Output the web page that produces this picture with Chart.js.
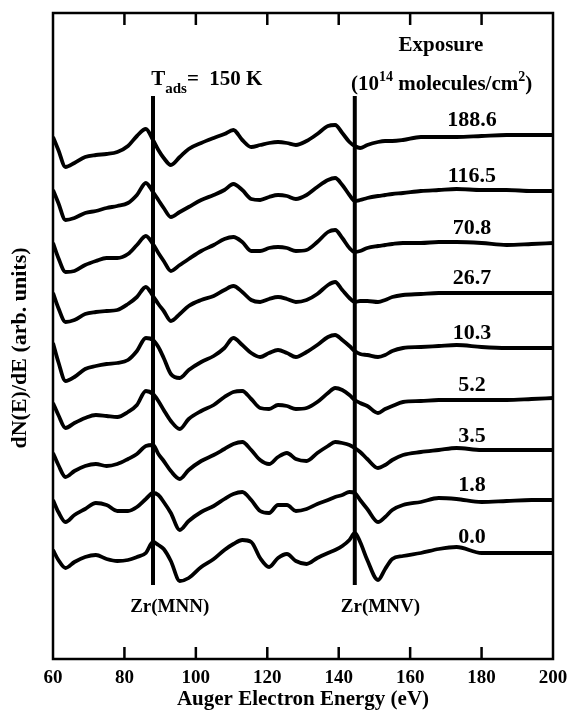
<!DOCTYPE html>
<html>
<head>
<meta charset="utf-8">
<script src="https://cdn.jsdelivr.net/npm/chart.js@4.4.0/dist/chart.umd.min.js"></script>
<style>
  html, body { margin: 0; padding: 0; background: #fff; }
  #wrap { width: 570px; height: 713px; }
</style>
</head>
<body>
<div id="wrap"><canvas id="auger" width="570" height="713"></canvas></div>
<script>
// Auger spectra of the Zr surface after increasing exposures, stacked with offsets
const energies = [60, 61.5, 63.5, 66, 69, 72, 75, 78, 81, 83.5, 86, 88, 89.5, 91, 93, 95.5, 98, 101.5, 105, 108,
  110.5, 113, 115.5, 118, 120.5, 123, 125.5, 128, 131, 134, 137, 139, 141, 143, 144.5, 146, 148, 151, 153, 155,
  158, 163, 168, 173, 180, 187, 194, 200];

const exposures = ["188.6", "116.5", "70.8", "26.7", "10.3", "5.2", "3.5", "1.8", "0.0"];
const offsets = [524, 468, 416, 366, 311, 259, 208, 159, 107];

const dN_188_6 = [-2,-15,-32,-28,-22,-20,-19,-17,-11,-1, 6,-5,-15,-23,-30,-22,-14,-8,-3,1,
  5,-5,-12,-10,-8,-7,-8,-10,-6,1, 9,10,2,-7,-11,-13,-10,-7,-6,-6, -5,-2,-2,-2,-1,0,0,0];
const dN_116_5 = [1,-12,-29,-27,-22,-20,-17,-15,-12,-4, 8,-1,-9,-17,-26,-21,-16,-9,-4,1,
  7,1,-8,-9,-6,-4,-5,-8,-4,4, 11,13,6,-4,-10,-9,-7,-5,-4,-3, -2,0,1,2,1,1,0,0];
const dN_70_8 = [0,-15,-29,-28,-22,-18,-15,-15,-11,-2, 7,-1,-10,-18,-28,-22,-16,-8,-2,4,
  6,1,-8,-8,-5,-4,-5,-8,-7,1, 11,13,5,-5,-9,-8,-5,-3,-2,-1, 0,0,1,1,0,-2,-1,0];
const dN_26_7 = [0,-15,-29,-27,-21,-19,-18,-17,-11,-4, 6,-3,-11,-18,-28,-21,-13,-7,-3,3,
  7,1,-7,-9,-6,-4,-6,-9,-7,-1, 8,11,3,-5,-9,-8,-8,-9,-7,-4, -2,-1,0,0,0,0,0,0];
const dN_10_3 = [5,-14,-33,-29,-21,-18,-16,-15,-12,-3, 10,8,1,-10,-26,-30,-22,-14,-8,0,
  10,3,-5,-9,-5,-2,-5,-9,-4,3, 11,13,8,2,-3,-6,-7,-9,-7,-3, 0,1,2,3,1,0,0,0];
const dN_5_2 = [-3,-15,-28,-23,-18,-15,-16,-17,-12,-5, 9,6,-1,-10,-21,-29,-19,-11,-5,3,
  8,9,1,-8,-9,-5,-6,-9,-8,-2, 7,12,10,5,0,-3,-6,-13,-9,-6, -2,-1,0,0,0,0,1,2];
const dN_3_5 = [-2,-14,-26,-20,-15,-13,-15,-13,-8,-3, 5,6,-3,-10,-20,-28,-19,-10,-4,2,
  7,9,1,-9,-13,-6,-2,-8,-10,-2, 5,9,8,6,3,-1,-8,-17,-14,-9, -4,-1,1,3,1,1,1,1];
const dN_1_8 = [0,-12,-22,-15,-9,-3,-5,-11,-11,-7, 1,7,5,-2,-13,-30,-21,-12,-6,1,
  6,8,0,-11,-13,-5,-5,-11,-9,-4, 0,3,5,8,7,0,-9,-22,-17,-10, -5,-2,2,1,-2,-1,0,0];
const dN_0_0 = [2,-8,-16,-10,-5,-3,-7,-9,-8,-5, -1,10,7,3,-9,-29,-26,-15,-7,2,
  8,12,10,-6,-15,-6,-2,-9,-12,-6, -1,2,6,12,19,10,-8,-28,-17,-7, -4,-1,3,5,-1,-1,-1,-1];

const spectra = [dN_188_6, dN_116_5, dN_70_8, dN_26_7, dN_10_3, dN_5_2, dN_3_5, dN_1_8, dN_0_0];

// Zr(MNN) and Zr(MNV) reference energies, and the span of the marker lines
const peakEnergies = [88, 144.5];
const peakNames = ["Zr(MNN)", "Zr(MNV)"];
const markerSpan = [74, 563];

const xTicks = [60, 80, 100, 120, 140, 160, 180, 200];

const serif = "'Liberation Serif', 'Times New Roman', serif";

const datasets = spectra.map((s, k) => ({
  label: exposures[k],
  data: energies.map((e, i) => ({ x: e, y: offsets[k] + s[i] })),
  borderColor: '#000',
  borderWidth: 3.8,
  pointRadius: 0,
  cubicInterpolationMode: 'monotone',
  fill: false
}));

peakEnergies.forEach((e, k) => {
  datasets.push({
    label: peakNames[k],
    data: markerSpan.map(v => ({ x: e, y: v })),
    borderColor: '#000',
    borderWidth: 4,
    pointRadius: 0
  });
});

function drawRuns(ctx, runs, x, y, align) {
  let total = 0;
  runs.forEach(r => {
    ctx.font = 'bold ' + r[1] + 'px ' + serif;
    total += ctx.measureText(r[0]).width;
  });
  let cx = align === 'center' ? x - total / 2 : x;
  runs.forEach(r => {
    ctx.font = 'bold ' + r[1] + 'px ' + serif;
    ctx.fillText(r[0], cx, y + (r[2] || 0));
    cx += ctx.measureText(r[0]).width;
  });
}

const framePlugin = {
  id: 'frame',
  afterDraw(chart) {
    const { ctx, chartArea: a, scales: { x, y } } = chart;
    ctx.save();
    ctx.strokeStyle = '#000';
    ctx.lineWidth = 2.5;
    ctx.strokeRect(a.left, a.top, a.width, a.height);
    // inward tick marks on the top and bottom edges
    xTicks.forEach(t => {
      const px = x.getPixelForValue(t);
      if (t === 60 || t === 200) return;
      ctx.beginPath();
      ctx.moveTo(px, a.bottom);
      ctx.lineTo(px, a.bottom - 12);
      ctx.moveTo(px, a.top);
      ctx.lineTo(px, a.top + 12);
      ctx.stroke();
    });

    ctx.fillStyle = '#000';
    ctx.textBaseline = 'alphabetic';

    // exposure labels above each spectrum
    exposures.forEach((lab, k) => {
      drawRuns(ctx, [[lab, 22]], x.getPixelForValue(177.3), y.getPixelForValue(offsets[k] + 9), 'center');
    });

    drawRuns(ctx, [['Exposure', 21]], x.getPixelForValue(168.6), y.getPixelForValue(608), 'center');
    drawRuns(ctx, [['(10', 21], ['14', 14, -9], [' molecules/cm', 21], ['2', 14, -9], [')', 21]],
      x.getPixelForValue(168.8), y.getPixelForValue(569), 'center');

    drawRuns(ctx, [['T', 21], ['ads', 15, 8], ['=  150 K', 21]],
      x.getPixelForValue(87.5), y.getPixelForValue(574), 'left');

    drawRuns(ctx, [[peakNames[0], 19]], x.getPixelForValue(81.6), y.getPixelForValue(47), 'left');
    drawRuns(ctx, [[peakNames[1], 19]], x.getPixelForValue(140.6), y.getPixelForValue(47), 'left');

    // rotated y-axis title
    ctx.translate(20, y.getPixelForValue(311));
    ctx.rotate(-Math.PI / 2);
    ctx.textAlign = 'center';
    ctx.textBaseline = 'middle';
    ctx.font = 'bold 22px ' + serif;
    ctx.fillText('dN(E)/dE (arb. units)', 0, 0);
    ctx.restore();
  }
};

new Chart(document.getElementById('auger'), {
  type: 'line',
  data: { datasets },
  options: {
    responsive: false,
    animation: false,
    layout: { autoPadding: false, padding: { top: 13, right: 17, left: 0, bottom: 0 } },
    plugins: { legend: { display: false }, tooltip: { enabled: false } },
    scales: {
      x: {
        type: 'linear',
        min: 60,
        max: 200,
        afterBuildTicks(scale) { scale.ticks = xTicks.map(v => ({ value: v })); },
        afterFit(scale) { scale.height = 54; },
        ticks: { color: '#000', padding: 0, maxRotation: 0, font: { family: serif, weight: 'bold', size: 19, lineHeight: 2 } },
        grid: { display: false, drawTicks: false },
        border: { display: false },
        title: {
          display: true,
          text: 'Auger Electron Energy (eV)',
          color: '#000',
          padding: { top: 0, bottom: 1 },
          font: { family: serif, weight: 'bold', size: 21 }
        }
      },
      y: {
        min: 0,
        max: 646,
        afterFit(scale) { scale.width = 53; },
        ticks: { display: false },
        grid: { display: false, drawTicks: false },
        border: { display: false },
        title: { display: false }
      }
    }
  },
  plugins: [framePlugin]
});
</script>
</body>
</html>
